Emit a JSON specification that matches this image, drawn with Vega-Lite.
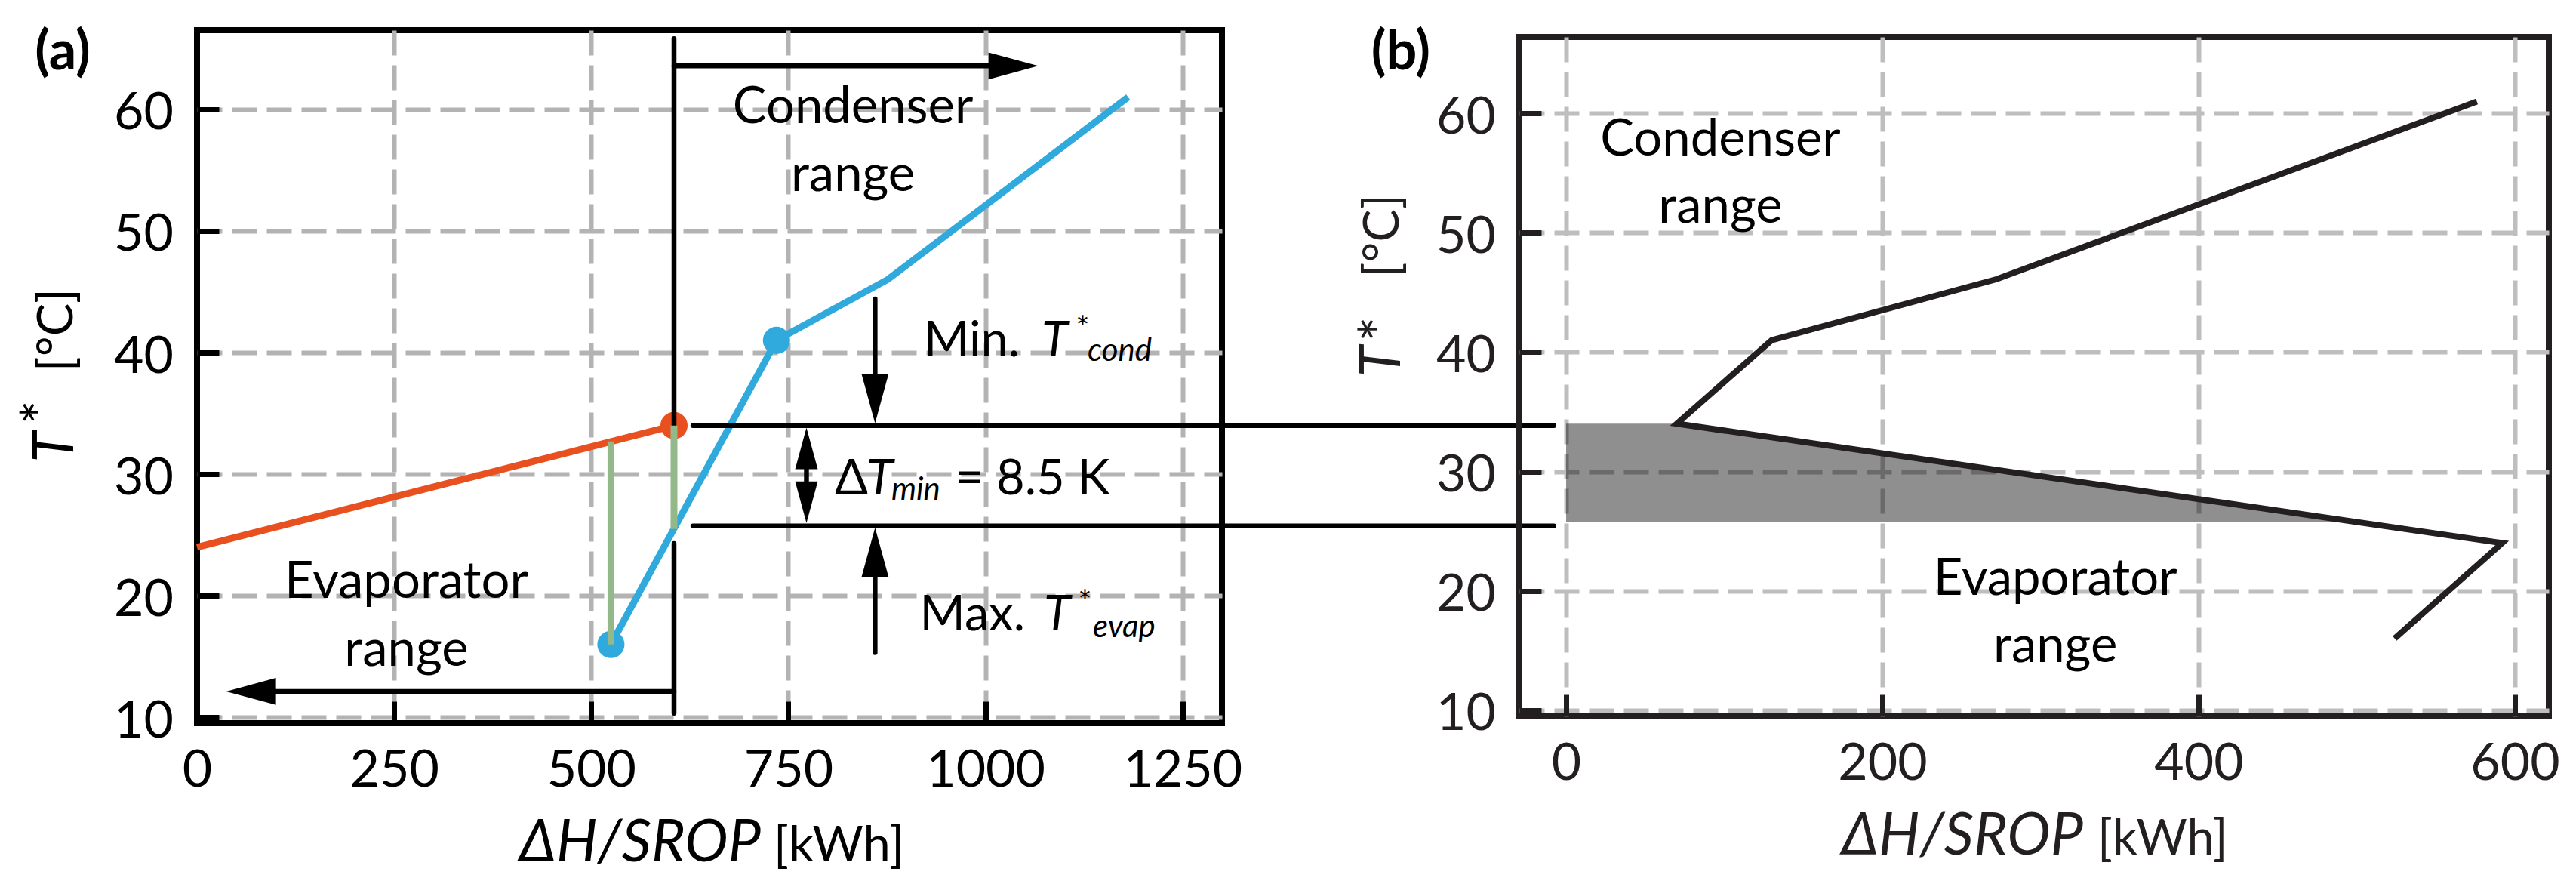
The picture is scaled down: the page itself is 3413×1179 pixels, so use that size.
{
  "$schema": "https://vega.github.io/schema/vega-lite/v6.json",
  "autosize": {"type": "none"},
  "padding": {"left": 261, "top": 40, "right": 3152, "bottom": 1139},
  "background": "white",
  "spacing": 394,
  "bounds": "flush",
  "center": true,
  "datasets": {
    "red": [{"x": 0, "T": 24}, {"x": 605, "T": 34}],
    "blue": [{"x": 525, "T": 16}, {"x": 735, "T": 41}, {"x": 876, "T": 46}, {"x": 1181, "T": 61}],
    "reddot": [{"x": 605, "T": 34}],
    "bluedot": [{"x": 525, "T": 16}, {"x": 735, "T": 41}],
    "green": [{"x": 525, "T": 16, "T2": 32.7}, {"x": 605, "T": 25.5, "T2": 34}],
    "vrules": [
      {"x": 605, "T": 34, "T2": 65.8},
      {"x": 605, "T": 10.35, "T2": 24.3},
      {"x": 860, "T": 37.6, "T2": 44.4},
      {"x": 860, "T": 15.33, "T2": 22.2},
      {"x": 773, "T": 29.3, "T2": 31.0}
    ],
    "hrules": [
      {"x": 605, "x2": 1010, "T": 63.56},
      {"x": 95, "x2": 605, "T": 12.14},
      {"x": 629, "x2": 1721, "T": 34},
      {"x": 629, "x2": 1721, "T": 25.74}
    ],
    "heads": [
      {"g": "r", "x": 1067, "T": 63.56},
      {"g": "l", "x": 37, "T": 12.14},
      {"g": "d", "x": 860, "T": 34.19},
      {"g": "u", "x": 860, "T": 25.6},
      {"g": "ds", "x": 773, "T": 25.99},
      {"g": "us", "x": 773, "T": 33.83}
    ],
    "textA": [
      {"g": "ann", "x": 832, "T": 58.88, "label": "Condenser\nrange"},
      {"g": "ann", "x": 265.6, "T": 19.83, "label": "Evaporator\nrange"},
      {"g": "plain", "x": 921.9, "T": 39.72, "label": "Min."},
      {"g": "plain", "x": 916.7, "T": 17.16, "label": "Max."},
      {"g": "plain", "x": 808.9, "T": 28.36, "label": "Δ"},
      {"g": "plain", "x": 961.8, "T": 28.36, "label": "= 8.5 K"},
      {"g": "ital", "x": 1071.2, "T": 39.72, "label": "T"},
      {"g": "ital", "x": 1074.1, "T": 17.16, "label": "T"},
      {"g": "ital", "x": 849.1, "T": 28.36, "label": "T"},
      {"g": "sub", "x": 1129.6, "T": 39.29, "label": "cond"},
      {"g": "sub", "x": 1136.3, "T": 16.63, "label": "evap"},
      {"g": "sub", "x": 880.6, "T": 27.9, "label": "min"},
      {"g": "sup", "x": 1114.7, "T": 41.11, "label": "*"},
      {"g": "sup", "x": 1117.6, "T": 18.57, "label": "*"},
      {"g": "tag", "x": -170.4, "T": 63.27, "label": "(a)"},
      {"g": "xti", "x": 715.1, "T": -1.85, "label": "ΔH/SROP"},
      {"g": "xtn", "x": 731.4, "T": -1.85, "label": "[kWh]"},
      {"g": "yti", "x": -157, "T": 30.97, "label": "T"},
      {"g": "yts", "x": -170.7, "T": 34.1, "label": "*"},
      {"g": "ytn", "x": -157.9, "T": 38.44, "label": "[°C]"}
    ],
    "fill": [{"x": 504, "x0": 0, "T": 25.74}, {"x": 70, "x0": 0, "T": 34}],
    "gcc": [
      {"o": 1, "x": 576, "T": 61},
      {"o": 2, "x": 272, "T": 46.1},
      {"o": 3, "x": 130, "T": 41},
      {"o": 4, "x": 70, "T": 34},
      {"o": 5, "x": 592, "T": 24},
      {"o": 6, "x": 524, "T": 16}
    ],
    "textB": [
      {"g": "ann", "x": 97.6, "T": 56.46, "label": "Condenser\nrange"},
      {"g": "ann", "x": 309.4, "T": 19.63, "label": "Evaporator\nrange"},
      {"g": "tag", "x": -104.6, "T": 63.71, "label": "(b)"},
      {"g": "xti", "x": 327, "T": -2.08, "label": "ΔH/SROP"},
      {"g": "xtn", "x": 336, "T": -2.08, "label": "[kWh]"},
      {"g": "yti", "x": -105, "T": 37.93, "label": "T"},
      {"g": "yts", "x": -103.8, "T": 40.85, "label": "*"},
      {"g": "ytn", "x": -106, "T": 46.27, "label": "[°C]"}
    ]
  },
  "hconcat": [
    {
      "width": 1358,
      "height": 918,
      "view": {"stroke": "black", "strokeWidth": 8},
      "encoding": {
        "x": {"field": "x", "type": "quantitative", "scale": {"domain": [0, 1300], "nice": false, "zero": false},
              "axis": {"values": [0, 250, 500, 750, 1000, 1250], "format": "d", "title": null, "gridColor": "#b3b3b3",
                       "gridOpacity": {"condition": {"test": "datum.value == 0", "value": 0}, "value": 1}}},
        "y": {"field": "T", "type": "quantitative", "scale": {"domain": [9.53, 66.5], "nice": false, "zero": false},
              "axis": {"values": [10, 20, 30, 40, 50, 60], "title": null, "gridColor": "#b3b3b3"}}
      },
      "layer": [
        {"data": {"name": "red"}, "mark": {"type": "line", "color": "#E8501F", "strokeWidth": 9}},
        {"data": {"name": "blue"}, "mark": {"type": "line", "color": "#30AADC", "strokeWidth": 9}},
        {"data": {"name": "reddot"}, "mark": {"type": "point", "filled": true, "color": "#E8501F", "size": 1300, "opacity": 1, "strokeWidth": 0}},
        {"data": {"name": "bluedot"}, "mark": {"type": "point", "filled": true, "color": "#30AADC", "size": 1300, "opacity": 1, "strokeWidth": 0}},
        {"data": {"name": "vrules"}, "mark": {"type": "rule", "color": "black", "strokeWidth": 6.5, "strokeCap": "round"}, "encoding": {"y2": {"field": "T2"}}},
        {"data": {"name": "hrules"}, "mark": {"type": "rule", "color": "black", "strokeWidth": 6.5, "strokeCap": "round"}, "encoding": {"x2": {"field": "x2"}}},
        {"data": {"name": "heads"}, "transform": [{"filter": "datum.g == 'r'"}], "mark": {"type": "point", "filled": true, "color": "black", "opacity": 1, "strokeWidth": 0, "size": 4356, "shape": "M0,0L-2,-0.54L-2,0.54Z"}},
        {"data": {"name": "heads"}, "transform": [{"filter": "datum.g == 'l'"}], "mark": {"type": "point", "filled": true, "color": "black", "opacity": 1, "strokeWidth": 0, "size": 4356, "shape": "M0,0L2,-0.54L2,0.54Z"}},
        {"data": {"name": "heads"}, "transform": [{"filter": "datum.g == 'd'"}], "mark": {"type": "point", "filled": true, "color": "black", "opacity": 1, "strokeWidth": 0, "size": 4225, "shape": "M0,0L-0.548,-2L0.548,-2Z"}},
        {"data": {"name": "heads"}, "transform": [{"filter": "datum.g == 'u'"}], "mark": {"type": "point", "filled": true, "color": "black", "opacity": 1, "strokeWidth": 0, "size": 4225, "shape": "M0,0L-0.548,2L0.548,2Z"}},
        {"data": {"name": "heads"}, "transform": [{"filter": "datum.g == 'ds'"}], "mark": {"type": "point", "filled": true, "color": "black", "opacity": 1, "strokeWidth": 0, "size": 3025, "shape": "M0,0L-0.545,-2L0.545,-2Z"}},
        {"data": {"name": "heads"}, "transform": [{"filter": "datum.g == 'us'"}], "mark": {"type": "point", "filled": true, "color": "black", "opacity": 1, "strokeWidth": 0, "size": 3025, "shape": "M0,0L-0.545,2L0.545,2Z"}},
        {"data": {"name": "green"}, "mark": {"type": "rule", "color": "#93B98A", "strokeWidth": 9}, "encoding": {"y2": {"field": "T2"}}},
        {"data": {"name": "textA"}, "transform": [{"filter": "datum.g == 'ann'"}], "mark": {"type": "text", "fontSize": 67, "align": "center", "baseline": "alphabetic", "lineBreak": "\n", "lineHeight": 90}, "encoding": {"text": {"field": "label"}}},
        {"data": {"name": "textA"}, "transform": [{"filter": "datum.g == 'plain'"}], "mark": {"type": "text", "fontSize": 65, "align": "left", "baseline": "alphabetic"}, "encoding": {"text": {"field": "label"}}},
        {"data": {"name": "textA"}, "transform": [{"filter": "datum.g == 'ital'"}], "mark": {"type": "text", "fontSize": 65, "fontStyle": "italic", "align": "left", "baseline": "alphabetic"}, "encoding": {"text": {"field": "label"}}},
        {"data": {"name": "textA"}, "transform": [{"filter": "datum.g == 'sub'"}], "mark": {"type": "text", "fontSize": 42, "fontStyle": "italic", "align": "left", "baseline": "alphabetic"}, "encoding": {"text": {"field": "label"}}},
        {"data": {"name": "textA"}, "transform": [{"filter": "datum.g == 'sup'"}], "mark": {"type": "text", "fontSize": 42, "align": "left", "baseline": "alphabetic"}, "encoding": {"text": {"field": "label"}}},
        {"data": {"name": "textA"}, "transform": [{"filter": "datum.g == 'tag'"}], "mark": {"type": "text", "fontSize": 72, "fontWeight": "bold", "align": "center", "baseline": "alphabetic"}, "encoding": {"text": {"field": "label"}}},
        {"data": {"name": "textA"}, "transform": [{"filter": "datum.g == 'xti'"}], "mark": {"type": "text", "fontSize": 77, "fontStyle": "italic", "align": "right", "baseline": "alphabetic"}, "encoding": {"text": {"field": "label"}}},
        {"data": {"name": "textA"}, "transform": [{"filter": "datum.g == 'xtn'"}], "mark": {"type": "text", "fontSize": 65, "align": "left", "baseline": "alphabetic"}, "encoding": {"text": {"field": "label"}}},
        {"data": {"name": "textA"}, "transform": [{"filter": "datum.g == 'yti'"}], "mark": {"type": "text", "fontSize": 75, "fontStyle": "italic", "angle": 270, "align": "left", "baseline": "alphabetic"}, "encoding": {"text": {"field": "label"}}},
        {"data": {"name": "textA"}, "transform": [{"filter": "datum.g == 'yts'"}], "mark": {"type": "text", "fontSize": 75, "angle": 270, "align": "left", "baseline": "alphabetic"}, "encoding": {"text": {"field": "label"}}},
        {"data": {"name": "textA"}, "transform": [{"filter": "datum.g == 'ytn'"}], "mark": {"type": "text", "fontSize": 65, "angle": 270, "align": "left", "baseline": "alphabetic"}, "encoding": {"text": {"field": "label"}}}
      ]
    },
    {
      "width": 1364,
      "height": 900,
      "view": {"stroke": "#231f20", "strokeWidth": 8},
      "encoding": {
        "x": {"field": "x", "type": "quantitative", "scale": {"domain": [-29.6, 621.5], "nice": false, "zero": false},
              "axis": {"values": [0, 200, 400, 600], "format": "d", "title": null, "gridColor": "#bebebe", "tickColor": "#231f20", "labelColor": "#231f20"}},
        "y": {"field": "T", "type": "quantitative", "scale": {"domain": [9.47, 66.41], "nice": false, "zero": false},
              "axis": {"values": [10, 20, 30, 40, 50, 60], "title": null, "gridColor": "#bebebe", "tickColor": "#231f20", "labelColor": "#231f20"}}
      },
      "layer": [
        {"data": {"name": "fill"}, "mark": {"type": "area", "orient": "horizontal", "color": "black", "opacity": 0.44}, "encoding": {"x2": {"field": "x0"}}},
        {"data": {"name": "gcc"}, "mark": {"type": "line", "color": "#231f20", "strokeWidth": 8, "strokeJoin": "miter"}, "encoding": {"order": {"field": "o"}}},
        {"data": {"name": "textB"}, "transform": [{"filter": "datum.g == 'ann'"}], "mark": {"type": "text", "fontSize": 67, "align": "center", "baseline": "alphabetic", "lineBreak": "\n", "lineHeight": 89}, "encoding": {"text": {"field": "label"}}},
        {"data": {"name": "textB"}, "transform": [{"filter": "datum.g == 'tag'"}], "mark": {"type": "text", "fontSize": 72, "fontWeight": "bold", "align": "center", "baseline": "alphabetic"}, "encoding": {"text": {"field": "label"}}},
        {"data": {"name": "textB"}, "transform": [{"filter": "datum.g == 'xti'"}], "mark": {"type": "text", "fontSize": 77, "fontStyle": "italic", "align": "right", "baseline": "alphabetic", "color": "#231f20"}, "encoding": {"text": {"field": "label"}}},
        {"data": {"name": "textB"}, "transform": [{"filter": "datum.g == 'xtn'"}], "mark": {"type": "text", "fontSize": 65, "align": "left", "baseline": "alphabetic", "color": "#231f20"}, "encoding": {"text": {"field": "label"}}},
        {"data": {"name": "textB"}, "transform": [{"filter": "datum.g == 'yti'"}], "mark": {"type": "text", "fontSize": 75, "fontStyle": "italic", "angle": 270, "align": "left", "baseline": "alphabetic", "color": "#231f20"}, "encoding": {"text": {"field": "label"}}},
        {"data": {"name": "textB"}, "transform": [{"filter": "datum.g == 'yts'"}], "mark": {"type": "text", "fontSize": 80, "angle": 270, "align": "left", "baseline": "alphabetic", "color": "#231f20"}, "encoding": {"text": {"field": "label"}}},
        {"data": {"name": "textB"}, "transform": [{"filter": "datum.g == 'ytn'"}], "mark": {"type": "text", "fontSize": 65, "angle": 270, "align": "left", "baseline": "alphabetic", "color": "#231f20"}, "encoding": {"text": {"field": "label"}}}
      ]
    }
  ],
  "config": {
    "axis": {
      "domain": false,
      "grid": true,
      "gridDash": [33, 13],
      "gridWidth": 6,
      "tickSize": -29,
      "tickWidth": 7,
      "tickColor": "black",
      "labelFont": "Lato",
      "labelFontSize": 68,
      "labelColor": "black",
      "labelFlush": false,
      "labelOverlap": false
    },
    "axisX": {"labelPadding": 58.5},
    "axisY": {"labelPadding": 60.5, "labelOffset": 6},
    "text": {"font": "Lato", "color": "black"}
  }
}
